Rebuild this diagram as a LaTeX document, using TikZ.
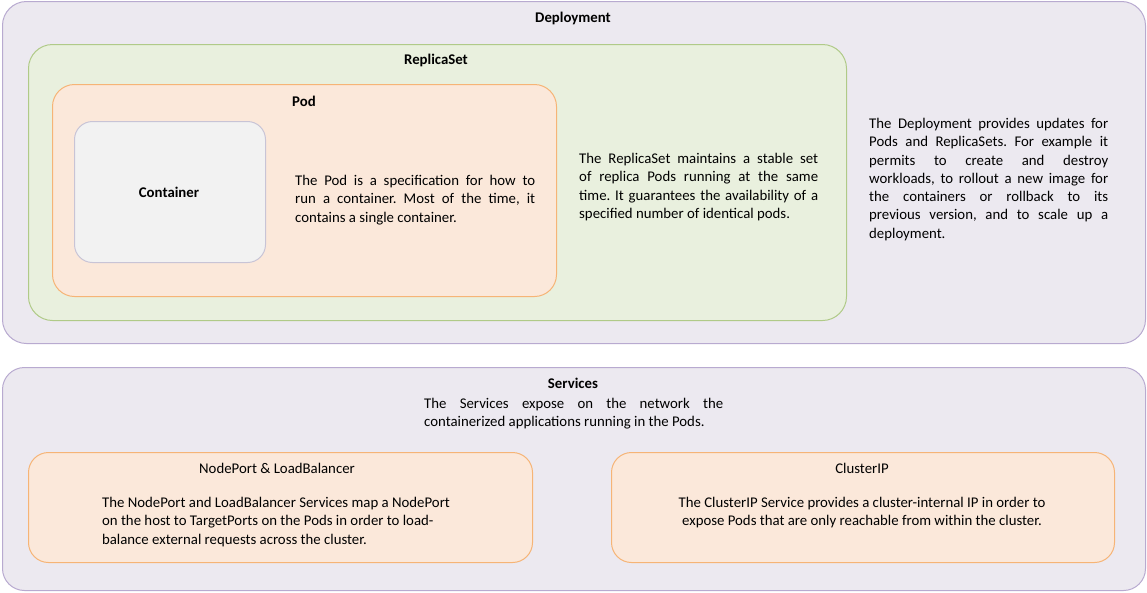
\documentclass[tikz,border=0pt]{standalone}
\usepackage{fontspec}
\setmainfont{Carlito}
\definecolor{depfill}{RGB}{236,233,240}
\definecolor{depdraw}{RGB}{184,170,208}
\definecolor{rsfill}{RGB}{233,240,222}
\definecolor{rsdraw}{RGB}{176,202,136}
\definecolor{podfill}{RGB}{251,232,218}
\definecolor{poddraw}{RGB}{246,180,118}
\definecolor{ctfill}{RGB}{242,242,242}
\definecolor{ctdraw}{RGB}{200,196,214}
\newcommand{\txtfont}{\fontsize{14.8}{18.3}\selectfont\frenchspacing\hyphenpenalty=10000 }
\begin{document}
\begin{tikzpicture}[x=1pt,y=-1pt,
  boxbase/.style={rectangle, anchor=north west, inner sep=0pt, line width=1pt},
  depbox/.style={boxbase, fill=depfill, draw=depdraw, rounded corners=24pt},
  rsbox/.style={boxbase, fill=rsfill, draw=rsdraw, rounded corners=24pt},
  podbox/.style={boxbase, fill=podfill, draw=poddraw, rounded corners=22pt},
  ctbox/.style={boxbase, fill=ctfill, draw=ctdraw, rounded corners=18pt},
  svcbox/.style={boxbase, fill=podfill, draw=poddraw, rounded corners=20pt},
  title/.style={inner sep=0pt, font=\txtfont\bfseries},
  plain/.style={inner sep=0pt, font=\txtfont},
  para/.style={inner sep=0pt, anchor=north west, align=justify, font=\txtfont},
  cpara/.style={inner sep=0pt, anchor=north, align=center, font=\txtfont},
  lpara/.style={inner sep=0pt, anchor=north, align=left, font=\txtfont},
]
\useasboundingbox (0,0) rectangle (1147,592);

% Deployment
\node[depbox, minimum width=1143pt, minimum height=342pt] (dep) at (2,1) {};
\node[title] (deptitle) at (573,18.5) {Deployment};
\node[para, text width=239pt] (deptext) at (869,118) {The Deployment provides updates for\linebreak Pods and ReplicaSets. For example it\linebreak permits to create and destroy\linebreak workloads, to rollout a new image for\linebreak the containers or rollback to its\linebreak previous version, and to scale up a\linebreak deployment.};

% ReplicaSet
\node[rsbox, minimum width=818pt, minimum height=276pt] (rs) at (28,44) {};
\node[title] (rstitle) at (436,60.5) {ReplicaSet};
\node[para, text width=239pt] (rstext) at (579,153) {The ReplicaSet maintains a stable set\linebreak of replica Pods running at the same\linebreak time. It guarantees the availability of a\linebreak specified number of identical pods.};

% Pod
\node[podbox, minimum width=504pt, minimum height=212pt] (pod) at (52,84) {};
\node[title] (podtitle) at (304,101) {Pod};
\node[para, text width=240pt] (podtext) at (295,175) {The Pod is a specification for how to\linebreak run a container. Most of the time, it\linebreak contains a single container.};

% Container
\node[ctbox, minimum width=191pt, minimum height=141pt] (ct) at (74,121) {};
\node[title] (cttitle) at (169,192) {Container};

% Services
\node[depbox, rounded corners=22pt, minimum width=1143pt, minimum height=223pt] (svc) at (2,367) {};
\node[title] (svctitle) at (573,383) {Services};
\node[para, text width=299pt] (svctext) at (424,398) {The Services expose on the network the\linebreak containerized applications running in the Pods.};

% NodePort & LoadBalancer
\node[svcbox, minimum width=504pt, minimum height=110pt] (np) at (28,452) {};
\node[plain] (nptitle) at (277,468) {NodePort \& LoadBalancer};
\node[lpara] (nptext) at (276,497) {The NodePort and LoadBalancer Services map a NodePort\\on the host to TargetPorts on the Pods in order to load-\\balance external requests across the cluster.};

% ClusterIP
\node[svcbox, minimum width=503pt, minimum height=110pt] (cip) at (611,452) {};
\node[plain] (ciptitle) at (862,468) {ClusterIP};
\node[cpara] (ciptext) at (862,497) {The ClusterIP Service provides a cluster-internal IP in order to\\expose Pods that are only reachable from within the cluster.};
\end{tikzpicture}
\end{document}
